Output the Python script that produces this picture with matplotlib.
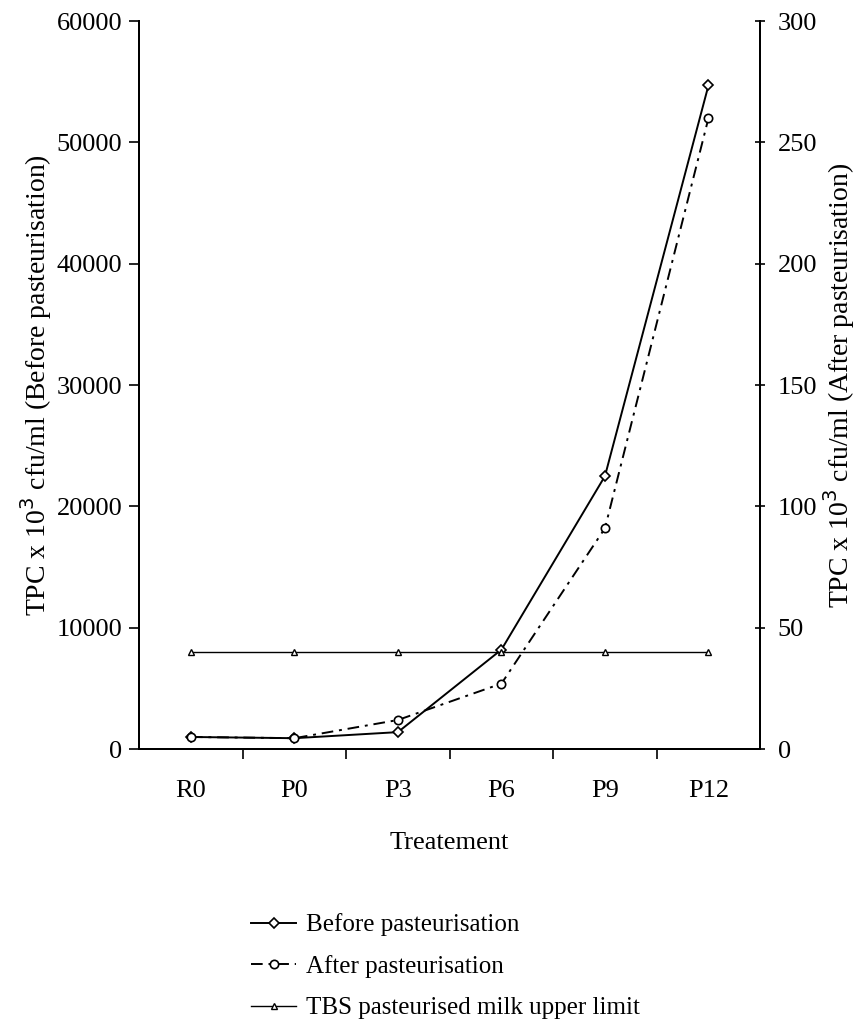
import matplotlib.pyplot as plt

# data
treatments = ["R0", "P0", "P3", "P6", "P9", "P12"]
before = [1000, 900, 1400, 8200, 22500, 54700]   # left axis
after = [5, 4.5, 12, 27, 91, 260]                # right axis
tbs_limit = [40, 40, 40, 40, 40, 40]             # right axis

plt.rcParams["font.family"] = ["Liberation Serif", "DejaVu Serif"]
plt.rcParams["font.size"] = 19

fig = plt.figure(figsize=(8.59, 10.29), dpi=100)
ax = fig.add_axes([0.162, 0.272, 0.723, 0.7075])
ax2 = ax.twinx()

x = list(range(len(treatments)))

l1, = ax.plot(x, before, color="black", lw=1.4, marker="D", ms=5,
              mfc="white", mec="black", mew=1.2, label="Before pasteurisation")
l2, = ax2.plot(x, after, color="black", lw=1.4, ls=(0, (6, 3, 1.5, 3)),
               marker="o", ms=6, mfc="white", mec="black", mew=1.2,
               label="After pasteurisation")
l3, = ax2.plot(x, tbs_limit, color="black", lw=1.0, marker="^", ms=5,
               mfc="white", mec="black", mew=1.0,
               label="TBS pasteurised milk upper limit")

ax.set_xlim(-0.5, 5.5)
ax.set_ylim(0, 60000)
ax2.set_ylim(0, 300)

ax.set_yticks(range(0, 60001, 10000))
ax2.set_yticks(range(0, 301, 50))
ax.set_xticks(x)
ax.set_xticklabels(treatments)
ax.set_xticks([i + 0.5 for i in range(len(treatments) - 1)], minor=True)
ax.tick_params(axis="x", which="major", length=0, pad=22)
ax.tick_params(axis="x", which="minor", length=7, width=1.2, direction="out")
ax.tick_params(axis="y", length=7, width=1.2, direction="out", pad=5)
ax2.tick_params(axis="y", length=7, width=1.2, direction="inout", pad=9)

for a in (ax, ax2):
    a.spines["top"].set_visible(False)
    for s in ("left", "right", "bottom"):
        a.spines[s].set_linewidth(1.4)

ax.set_xlabel("Treatement", labelpad=22)
ax.set_ylabel("TPC x 10$^3$ cfu/ml (Before pasteurisation)", fontsize=20,
              labelpad=2)
ax2.set_ylabel("TPC x 10$^3$ cfu/ml (After pasteurisation)", fontsize=20,
               labelpad=3)

fig.legend(handles=[l1, l2, l3], loc="upper left",
           bbox_to_anchor=(0.281, 0.122), frameon=False,
           handlelength=1.8, labelspacing=0.75, handletextpad=0.4,
           fontsize=18, borderaxespad=0)

fig.savefig("out.png", dpi=100, facecolor="white")
